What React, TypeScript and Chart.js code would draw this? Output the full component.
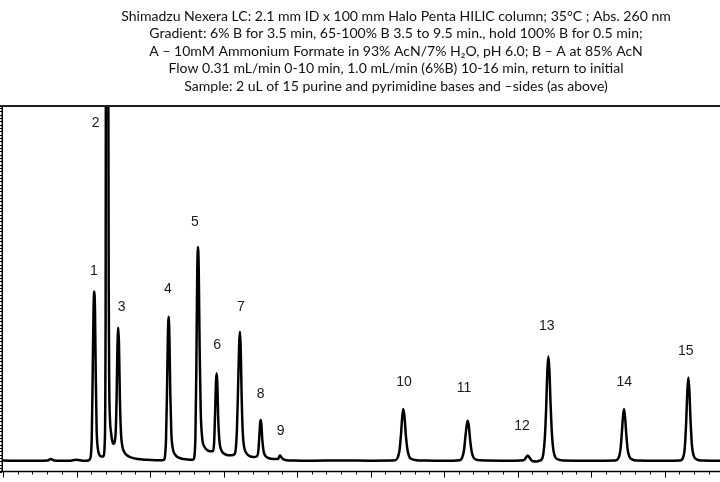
import React, { useEffect, useRef } from "react";
import { Chart, registerables } from "chart.js";
Chart.register(...registerables);

const titleLines = [
  "Shimadzu Nexera LC: 2.1 mm ID x 100 mm Halo Penta HILIC column; 35°C ; Abs. 260 nm",
  "Gradient: 6% B for 3.5 min, 65-100% B 3.5 to 9.5 min., hold 100% B for 0.5 min;",
  "A – 10mM Ammonium Formate in 93% AcN/7% H₂O, pH 6.0; B – A at 85% AcN",
  "Flow 0.31 mL/min 0-10 min, 1.0 mL/min (6%B) 10-16 min, return to initial",
  "Sample: 2 uL of 15 purine and pyrimidine bases and –sides (as above)",
];

// Chromatogram trace: retention time (min) and detector signal (relative units)
const traceTime = [
  0, 0.3, 0.6, 0.65, 0.7, 0.9, 1.0, 1.1, 1.16,
  // peak 1
  1.175, 1.195, 1.208, 1.22, 1.232, 1.242, 1.252, 1.262, 1.274, 1.29, 1.31, 1.335, 1.355,
  // peak 2 (off scale)
  1.37, 1.382, 1.39, 1.396, 1.4, 1.406, 1.426, 1.432, 1.438, 1.445, 1.455, 1.47, 1.487, 1.502,
  // peak 3
  1.53, 1.545, 1.557, 1.569, 1.578, 1.59, 1.605, 1.625, 1.65, 1.69, 1.75, 1.83, 1.95, 2.08, 2.17,
  // peak 4
  2.19, 2.205, 2.218, 2.23, 2.243, 2.254, 2.264, 2.276, 2.29, 2.31, 2.34, 2.39, 2.46, 2.55, 2.59,
  // peak 5
  2.605, 2.618, 2.63, 2.642, 2.653, 2.663, 2.675, 2.69, 2.71, 2.74, 2.78, 2.82, 2.855,
  // peak 6
  2.872, 2.885, 2.897, 2.907, 2.916, 2.928, 2.945, 2.97, 3.01, 3.06, 3.11,
  // peak 7
  3.145, 3.165, 3.183, 3.2, 3.213, 3.224, 3.234, 3.247, 3.262, 3.28, 3.31, 3.35, 3.41, 3.455,
  // peak 8
  3.475, 3.49, 3.5, 3.506, 3.515, 3.528, 3.545, 3.57, 3.6, 3.65, 3.71, 3.745,
  // peak 9
  3.758, 3.769, 3.785, 3.81, 3.85, 3.95, 4.2, 4.6, 5.0, 5.3,
  // peak 10
  5.34, 5.37, 5.395, 5.415, 5.432, 5.446, 5.462, 5.48, 5.5, 5.525, 5.56, 5.62, 5.75, 6.0,
  // peak 11
  6.21, 6.245, 6.272, 6.292, 6.309, 6.322, 6.337, 6.355, 6.375, 6.4, 6.44, 6.5, 6.8, 7.05,
  // peak 12
  7.095, 7.12, 7.139, 7.16, 7.185, 7.21, 7.26, 7.3,
  // peak 13
  7.33, 7.35, 7.372, 7.39, 7.405, 7.419, 7.433, 7.45, 7.47, 7.49, 7.515, 7.55, 7.62, 8.0,
  // peak 14
  8.33, 8.37, 8.4, 8.42, 8.435, 8.449, 8.463, 8.48, 8.5, 8.525, 8.56, 8.62, 9.0,
  // peak 15
  9.21, 9.25, 9.275, 9.295, 9.31, 9.324, 9.338, 9.355, 9.375, 9.4, 9.44, 9.5, 9.755,
];
const traceSignal = [
  0.1, 0, 0.1, 0.5, 0.1, 0, 0.3, 0, 0.1,
  0.3, 1.5, 7, 24, 43, 47.7, 42, 24, 9, 3.5, 1.8, 1.2, 1.2,
  1.5, 4, 12, 40, 120, 250, 250, 120, 50, 22, 12, 8, 5.5, 4.8,
  7, 17, 32, 37.5, 33, 18, 8, 4, 2.5, 1.5, 0.9, 0.5, 0.3, 0.2, 0.2,
  0.3, 1.5, 6, 18, 35, 40.6, 35, 19, 8, 3.5, 1.8, 0.9, 0.5, 0.3, 0.4,
  1.5, 7, 25, 52, 60.3, 54, 32, 14, 6.5, 4, 3, 2.7, 2.7,
  5, 13, 22, 24.7, 22, 12, 5.5, 3, 2, 1.6, 1.6,
  1.8, 3, 9, 22, 33, 36.4, 32, 18, 8, 4, 2.2, 1.4, 1.1, 1.3,
  3, 8, 11, 11.5, 10.5, 6, 2.8, 1.4, 0.9, 0.6, 0.5, 0.6,
  1.2, 1.5, 1.1, 0.5, 0.2, 0.1, 0.05, 0.1, 0.05, 0.1,
  0.2, 0.9, 3, 7.5, 12.5, 14.6, 12.5, 7.5, 3.5, 1.3, 0.5, 0.2, 0.1, 0.05,
  0.2, 0.8, 3, 7, 10, 11.3, 10, 6, 2.8, 1, 0.35, 0.15, 0.05, 0.1,
  0.3, 1.1, 1.5, 1.0, 0.3, -0.1, -0.15, 0.05,
  0.4, 1.8, 6.5, 15, 25, 29.4, 26, 16, 7, 2.8, 1, 0.4, 0.1, 0.05,
  0.1, 0.6, 3, 8, 12.5, 14.6, 12.5, 7.5, 3, 1.1, 0.4, 0.1, 0.05,
  0.1, 0.8, 3.5, 11, 19.5, 23.5, 20, 11, 4, 1.3, 0.4, 0.1, 0.05,
];

// Peak number labels, anchored in data units (time, signal)
const peakLabels = ["1", "2", "3", "4", "5", "6", "7", "8", "9", "10", "11", "12", "13", "14", "15"];
const labelTime = [1.238, 1.261, 1.615, 2.245, 2.612, 2.912, 3.238, 3.506, 3.778, 5.456, 6.272, 7.061, 7.397, 8.453, 9.288];
const labelSignal = [53.6, 95.2, 43.4, 48.5, 67.4, 32.7, 43.4, 18.9, 8.3, 22.3, 20.6, 9.9, 38.0, 22.3, 31.0];

const xMin = 0;
const xMax = 9.755;
const yMin = -3;
const yMax = 100;
const xMinorStep = 0.2;
const xMajorEvery = 5;
const yTickStep = 0.94;

const decorPlugin = {
  id: "decor",
  afterDraw(chart: any) {
    const { ctx, chartArea, scales } = chart;
    const x = scales.x;
    const y = scales.y;
    const W = chart.width;
    ctx.save();
    // top border
    ctx.strokeStyle = "#1e1e1e";
    ctx.lineWidth = 2;
    ctx.beginPath();
    ctx.moveTo(0, chartArea.top);
    ctx.lineTo(W, chartArea.top);
    ctx.stroke();
    // left axis
    ctx.strokeStyle = "#000";
    ctx.lineWidth = 1.5;
    ctx.beginPath();
    ctx.moveTo(chartArea.left - 0.75, chartArea.top);
    ctx.lineTo(chartArea.left - 0.75, chartArea.bottom);
    ctx.stroke();
    // y minor ticks
    ctx.lineWidth = 1;
    ctx.beginPath();
    for (let v = yMin; v <= yMax + 1e-6; v += yTickStep) {
      const py = Math.round(y.getPixelForValue(v)) + 0.5;
      ctx.moveTo(0, py);
      ctx.lineTo(chartArea.left - 1, py);
    }
    ctx.stroke();
    // bottom axis
    ctx.lineWidth = 1.5;
    ctx.beginPath();
    ctx.moveTo(0, chartArea.bottom);
    ctx.lineTo(W, chartArea.bottom);
    ctx.stroke();
    // x ticks
    ctx.lineWidth = 1;
    ctx.beginPath();
    for (let i = 0; i * xMinorStep <= xMax + 1e-6; i++) {
      const px = Math.round(x.getPixelForValue(i * xMinorStep)) + 0.5;
      const len = i % xMajorEvery === 0 ? 6 : 3;
      ctx.moveTo(px, chartArea.bottom);
      ctx.lineTo(px, chartArea.bottom + len);
    }
    ctx.stroke();
    // peak labels
    ctx.fillStyle = "#1a1a1a";
    ctx.font = "14px 'Liberation Sans', Arial, sans-serif";
    ctx.textAlign = "center";
    ctx.textBaseline = "middle";
    peakLabels.forEach((lab, i) => {
      ctx.fillText(lab, x.getPixelForValue(labelTime[i]), y.getPixelForValue(labelSignal[i]));
    });
    // title
    const fam = "Lato, 'Open Sans', sans-serif";
    ctx.font = `100px ${fam}`;
    const w1 = ctx.measureText(titleLines[0]).width;
    const size = (100 * 550) / w1;
    ctx.font = `${size}px ${fam}`;
    ctx.fillStyle = "#111";
    const cx = 396;
    const ys = [16, 33.5, 51, 68.5, 86];
    titleLines.forEach((ln, i) => ctx.fillText(ln, cx, ys[i]));
    ctx.restore();
  },
};

export default function App() {
  const ref = useRef<HTMLCanvasElement>(null);
  useEffect(() => {
    document.body.style.margin = "0";
    const canvas = ref.current!;
    const chart = new Chart(canvas, {
      type: "line",
      data: {
        datasets: [
          {
            data: traceTime.map((t, i) => ({ x: t, y: traceSignal[i] })),
            borderColor: "#000",
            borderWidth: 2.5,
            pointRadius: 0,
            cubicInterpolationMode: "monotone",
            borderJoinStyle: "round",
            fill: false,
          },
        ],
      },
      options: {
        animation: false,
        responsive: false,
        devicePixelRatio: 1,
        events: [],
        layout: { padding: { left: 3, right: 0, top: 106, bottom: 10.5 } },
        plugins: { legend: { display: false }, tooltip: { enabled: false }, title: { display: false } },
        scales: {
          x: { type: "linear", min: xMin, max: xMax, display: false },
          y: { type: "linear", min: yMin, max: yMax, display: false },
        },
      },
      plugins: [decorPlugin],
    } as any);
    return () => chart.destroy();
  }, []);
  return <canvas ref={ref} width={720} height={482} style={{ display: "block" }} />;
}
